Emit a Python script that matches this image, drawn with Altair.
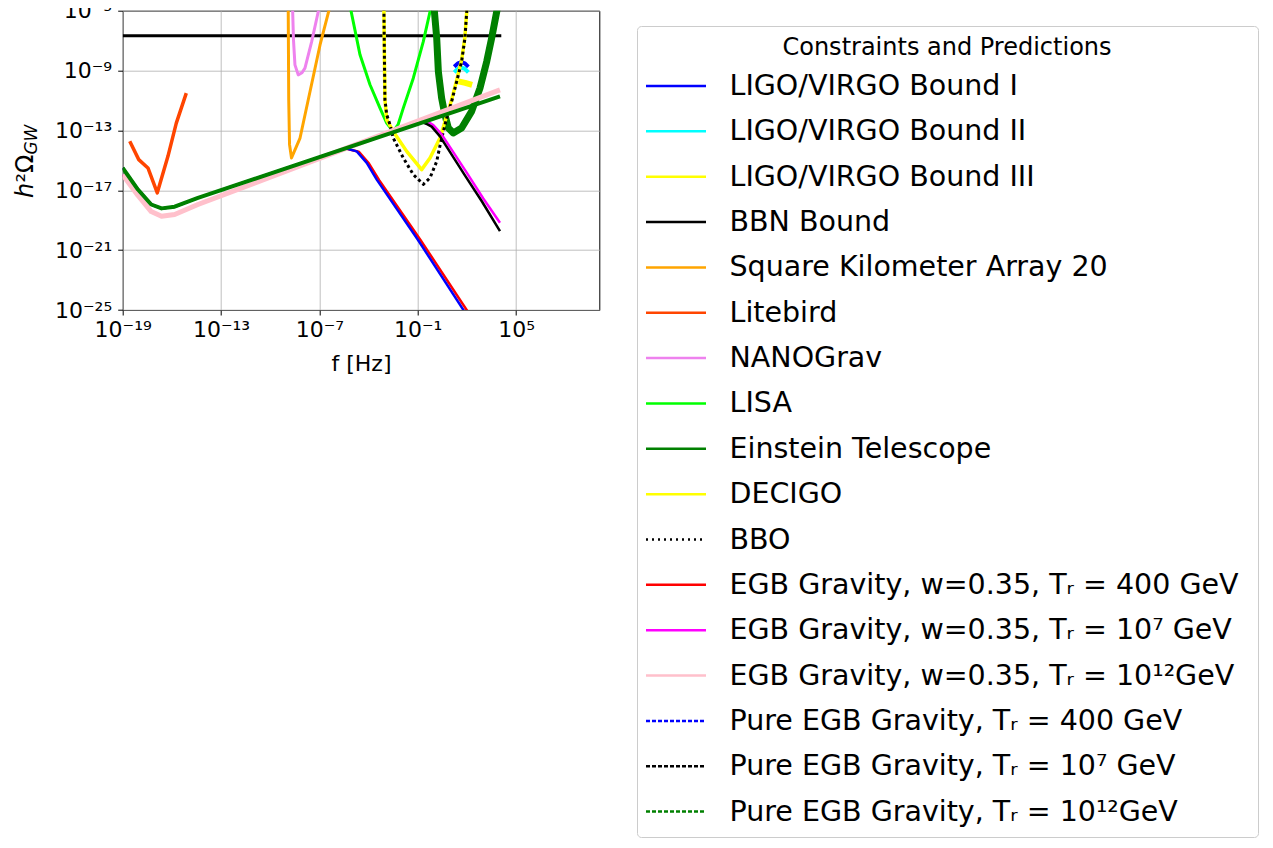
import json
import altair as alt
import pandas as pd

# ---------------- data: log10(f [Hz]) and log10(h^2 Omega_GW) ----------------
ligo1_f = [1.23, 1.45, 1.66, 1.88, 2.09]
ligo1_h = [-8.75, -8.52, -8.44, -8.52, -8.75]
ligo2_f = [1.23, 1.45, 1.66, 1.88, 2.09]
ligo2_h = [-9.12, -8.88, -8.80, -8.88, -9.12]
ligo3_f = [1.48, 1.90, 2.32]
ligo3_h = [-9.72, -9.82, -9.95]
bbn_f = [-19.0, 4.1]
bbn_h = [-6.68, -6.68]
ska_f = [-8.91, -8.90, -8.87, -8.82, -8.70, -8.18, -7.57, -6.96, -6.42, -6.22]
ska_h = [-4.0, -5.0, -10.95, -13.95, -14.84, -13.51, -10.40, -7.29, -5.0, -4.0]
litebird_f = [-18.57, -18.02, -17.46, -16.89, -16.24, -15.73, -15.12]
litebird_h = [-13.73, -14.95, -15.51, -17.17, -14.73, -12.51, -10.51]
nanograv_f = [-8.64, -8.63, -8.58, -8.49, -8.29, -8.06, -7.88, -7.47, -7.07, -6.95]
nanograv_h = [-4.0, -5.0, -6.95, -8.62, -9.29, -9.15, -8.84, -7.07, -5.07, -4.5]
lisa_f = [-5.15, -5.07, -4.52, -3.91, -3.30, -2.89, -2.49, -2.20, -1.88, -1.27, -0.66, -0.25, -0.10]
lisa_h = [-4.0, -5.0, -7.95, -9.95, -11.51, -12.51, -13.07, -12.62, -11.51, -9.51, -7.07, -5.07, -4.3]
et_f = [-0.01, 0.02, 0.16, 0.26, 0.46, 0.66, 0.87, 1.17, 1.68, 2.29, 2.80, 3.21, 3.51, 3.82, 3.93]
et_h = [-4.0, -5.07, -6.84, -9.07, -10.84, -11.95, -12.84, -13.17, -12.84, -11.73, -10.17, -8.4, -6.84, -5.07, -4.4]
decigo_f = [-3.06, -3.06, -3.03, -3.0, -2.89, -2.49, -1.67, -0.76, -0.25, 0.36, 0.77, 1.07, 1.38, 1.68, 1.88, 1.99, 2.04]
decigo_h = [-4.0, -5.07, -8.29, -10.95, -12.29, -13.07, -14.40, -15.62, -14.84, -13.51, -12.02, -10.95, -9.62, -8.29, -6.75, -5.07, -4.0]
bbo_f = [-3.06, -3.06, -3.03, -3.0, -2.89, -2.69, -2.49, -1.88, -1.27, -0.66, -0.25, 0.16, 0.36, 0.56, 0.77, 1.07, 1.38, 1.68, 1.88, 1.99, 2.04]
bbo_h = [-4.0, -5.07, -8.29, -10.95, -11.95, -12.62, -13.51, -14.84, -15.95, -16.60, -16.17, -15.07, -14.02, -13.09, -12.17, -11.07, -9.73, -8.4, -6.84, -5.07, -4.0]

# shared low-frequency branches of the model curves
egb_low_f = [-19.0, -18.07, -17.26, -16.63, -15.83, -14.41]
egb_low_h = [-15.96, -17.35, -18.42, -18.73, -18.62, -17.95]
pure_low_f = [-19.0, -18.07, -17.26, -16.63, -15.83, -14.41]
pure_low_h = [-15.51, -16.95, -17.95, -18.21, -18.10, -17.51]

egb400_tail_f = [-5.4, -4.6, -3.98, -3.35, -0.83, 2.05]
egb400_tail_h = [-14.21, -14.42, -15.20, -16.32, -20.32, -25.1]
egb1e7_tail_f = [-0.7, -0.35, -0.05, 0.45, 1.99, 3.0, 4.02]
egb1e7_tail_h = [-12.25, -12.45, -12.65, -13.25, -15.82, -17.55, -19.17]
egb1e12_tail_f = [4.02]
egb1e12_tail_h = [-10.29]
pure400_tail_f = [-5.4, -4.72, -4.11, -3.5, -1.0, 1.85]
pure400_tail_h = [-14.19, -14.40, -15.17, -16.29, -20.29, -25.1]
pure1e7_tail_f = [-0.7, -0.4, -0.15, 0.36, 1.89, 2.92, 4.02]
pure1e7_tail_h = [-12.46, -12.60, -12.75, -13.40, -16.02, -17.75, -19.73]
pure1e12_tail_f = [4.02]
pure1e12_tail_h = [-10.73]

names = [
    "LIGO/VIRGO Bound I",
    "LIGO/VIRGO Bound II",
    "LIGO/VIRGO Bound III",
    "BBN Bound",
    "Square Kilometer Array 20",
    "Litebird",
    "NANOGrav",
    "LISA",
    "Einstein Telescope",
    "DECIGO",
    "BBO",
    "EGB Gravity,  w=0.35, Tᵣ = 400 GeV",
    "EGB Gravity,  w=0.35, Tᵣ = 10⁷ GeV",
    "EGB Gravity,  w=0.35, Tᵣ = 10¹²GeV",
    "Pure EGB Gravity, Tᵣ = 400 GeV",
    "Pure EGB Gravity, Tᵣ = 10⁷ GeV",
    "Pure EGB Gravity, Tᵣ = 10¹²GeV",
]
series_f = [ligo1_f, ligo2_f, ligo3_f, bbn_f, ska_f, litebird_f, nanograv_f, lisa_f, et_f,
            decigo_f, bbo_f,
            egb_low_f + egb400_tail_f, egb_low_f + egb1e7_tail_f, egb_low_f + egb1e12_tail_f,
            pure_low_f + pure400_tail_f, pure_low_f + pure1e7_tail_f, pure_low_f + pure1e12_tail_f]
series_h = [ligo1_h, ligo2_h, ligo3_h, bbn_h, ska_h, litebird_h, nanograv_h, lisa_h, et_h,
            decigo_h, bbo_h,
            egb_low_h + egb400_tail_h, egb_low_h + egb1e7_tail_h, egb_low_h + egb1e12_tail_h,
            pure_low_h + pure400_tail_h, pure_low_h + pure1e7_tail_h, pure_low_h + pure1e12_tail_h]

x_ticks_exp = [-19, -13, -7, -1, 5]
y_ticks_exp = [-25, -21, -17, -13, -9, -5]

# ---------------- styles ----------------
colors = ["#0000ff", "#00ffff", "#ffff00", "#000000", "#ffa500", "#ff4500", "#ee82ee", "#00ff00",
          "#008000", "#ffff00", "#000000", "#ff0000", "#ff00ff", "#ffc0cb", "#0000ff", "#000000", "#008000"]
plot_widths = [4, 4, 6, 3, 3, 3.5, 3, 3, 7, 3.5, 3, 2.5, 2.5, 5, 2.5, 2.5, 4]
plot_dashes = [None] * 10 + [[3, 3]] + [None] * 6
legend_dashes = [[1, 0]] * 10 + [[2, 4]] + [[1, 0]] * 3 + [[4, 2]] * 3

SUP = str.maketrans("-0123456789", "⁻⁰¹²³⁴⁵⁶⁷⁸⁹")


def tick_expr(exps):
    labels = ["10" + str(e).translate(SUP) for e in exps]
    return f"{json.dumps(labels, ensure_ascii=False)}[indexof({json.dumps(exps)}, round(log(datum.value)/LN10))]"


def per_entry(values, fallback):
    names_js = json.dumps(names, ensure_ascii=False)
    vals_js = json.dumps(values)
    return (f"(isObject(datum) && isString(datum.value) && indexof({names_js}, datum.value) >= 0) "
            f"? {vals_js}[indexof({names_js}, datum.value)] : {json.dumps(fallback)}")


rows = []
for name, fs, hs in zip(names, series_f, series_h):
    for i, (a, b) in enumerate(zip(fs, hs)):
        rows.append({"series": name, "i": i, "f": 10 ** a, "h": 10 ** b})
df = pd.DataFrame(rows)

FONT = "DejaVu Sans"
x_scale = alt.Scale(type="log", domain=[1e-19, 10 ** 10.08], nice=False)
y_scale = alt.Scale(type="log", domain=[1e-25, 1e-5], nice=False)
color_scale = alt.Scale(domain=names, range=colors)

x_axis = alt.Axis(values=[10.0 ** e for e in x_ticks_exp], labelExpr=tick_expr(x_ticks_exp),
                  title="f [Hz]", labelPadding=4, titlePadding=13, labelFlush=False, labelOverlap=False)
y_axis = alt.Axis(values=[10.0 ** e for e in y_ticks_exp], labelExpr=tick_expr(y_ticks_exp),
                  title=None, labelPadding=6, labelFlush=False, labelOverlap=False)

legend = alt.Legend(
    title="Constraints and Predictions", orient="none", legendX=514.3, legendY=15.3,
    symbolType="M-1.5,0H1.5", symbolSize=1600, symbolOffset=7.5, labelOffset=32, symbolStrokeWidth=2.5,
    symbolDash={"expr": per_entry(legend_dashes, [1, 0])},
    labelFont=FONT, labelFontSize=28.5, labelLimit=2000, labelColor="black",
    titleFont=FONT, titleFontSize=24, titleFontWeight="normal", titleAnchor="middle",
    titleLimit=2000, titleColor="black", titlePadding=4.5,
    strokeColor="#cccccc", fillColor="white", cornerRadius=4, padding=10, rowPadding=9.35,
)

layers = []
for k, name in enumerate(names):
    mk = dict(strokeWidth=plot_widths[k], clip=True, strokeJoin="round")
    if plot_dashes[k]:
        mk["strokeDash"] = plot_dashes[k]
    layers.append(
        alt.Chart(df).transform_filter(alt.datum.series == name).mark_line(**mk).encode(
            x=alt.X("f:Q", scale=x_scale, axis=x_axis),
            y=alt.Y("h:Q", scale=y_scale, axis=y_axis),
            color=alt.Color("series:N", scale=color_scale, legend=legend),
            order="i:Q",
        )
    )

# y-axis title  h^2 Omega_GW  (rotated text pieces)
ylab = pd.DataFrame({"t": ["h", "²Ω", "GW"]})
y_h = alt.Chart(ylab).transform_filter(alt.datum.t == "h").mark_text(
    angle=270, align="left", baseline="alphabetic", font=FONT, fontSize=24, fontStyle="italic", color="black"
).encode(text="t:N", x=alt.value(-89.7), y=alt.value(187.3))
y_o = alt.Chart(ylab).transform_filter(alt.datum.t == "²Ω").mark_text(
    angle=270, align="left", baseline="alphabetic", font=FONT, fontSize=24, color="black"
).encode(text="t:N", x=alt.value(-89.7), y=alt.value(171.8))
y_gw = alt.Chart(ylab).transform_filter(alt.datum.t == "GW").mark_text(
    angle=270, align="left", baseline="alphabetic", font=FONT, fontSize=17, fontStyle="italic", color="black"
).encode(text="t:N", x=alt.value(-85.7), y=alt.value(143.9))

chart = alt.layer(*layers, y_h, y_o, y_gw).properties(
    width=476.6, height=299.3, background="white",
    autosize=alt.AutoSizeParams(type="none"),
    padding={"left": 114.7, "top": 2.7, "right": 665.7, "bottom": 528},
).configure_view(stroke="black", strokeWidth=1).configure_axis(
    labelFont=FONT, labelFontSize=22, labelColor="black", tickColor="black", tickSize=5, tickWidth=1,
    domain=False, gridColor="#b0b0b0", gridWidth=0.8, gridOpacity=1,
    titleFont=FONT, titleFontSize=22, titleFontWeight="normal", titleColor="black",
)

chart.save("out.html", embed_options={"renderer": "svg", "actions": False})
